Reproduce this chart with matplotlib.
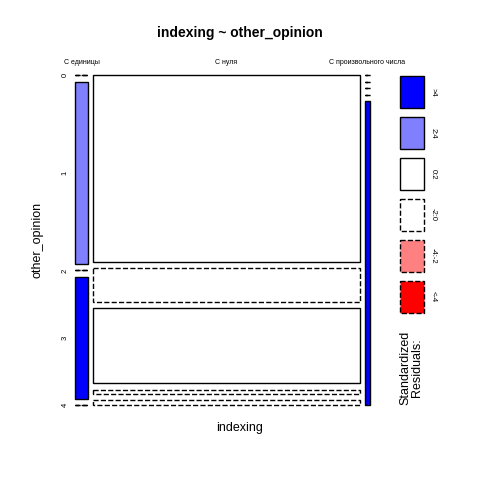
import matplotlib
matplotlib.use("Agg")
import matplotlib.pyplot as plt
from matplotlib.patches import Rectangle
plt.rcParams['font.family'] = ['Liberation Sans', 'DejaVu Sans']

columns = ["С единицы", "С нуля", "С произвольного числа"]
rows = ["0", "1", "2", "3", "4"]
counts = [[0, 36, 0, 24, 0],
          [754, 137, 302, 16, 20],
          [0, 0, 0, 0, 23]]
# residual class per cell: 0 '>4', 1 '2:4', 2 '0:2', 3 '-2:0', 4 '-4:-2', 5 '<-4'
resid = [[3, 1, 3, 0, 3],
         [2, 3, 2, 3, 3],
         [3, 3, 3, 3, 0]]
leg_labels = [">4", "2:4", "0:2", "-2:0", "-4:-2", "<-4"]
leg_colors = ["#0000FF", "#8080FF", "white", "white", "#FF8080", "#FF0000"]
leg_dashed = [False, False, False, True, True, True]

fig = plt.figure(figsize=(4.8, 4.8), dpi=100)
ax = fig.add_axes([0, 0, 1, 1])
ax.set_xlim(0, 480); ax.set_ylim(480, 0); ax.axis("off")

X0, X1, Y0, Y1 = 75, 370, 75, 405
gx, gy = 5, 6.5
total = sum(sum(c) for c in counts)
wavail = (X1 - X0) - gx * (len(columns) - 1)
x = X0
for ci, col in enumerate(counts):
    w = wavail * sum(col) / total
    havail = (Y1 - Y0) - gy * (len(rows) - 1)
    y = Y0
    for ri, v in enumerate(col):
        h = havail * v / sum(col)
        k = resid[ci][ri]
        ax.add_patch(Rectangle((x, y), w, h, facecolor=leg_colors[k], edgecolor="black",
                               lw=1, linestyle="--" if leg_dashed[k] else "-"))
        if ci == 0:
            ax.text(65, y + h / 2, rows[ri], rotation=90, fontsize=5.5, ha="center", va="center")
        y += h + gy
    ax.text(x + w / 2, 63, columns[ci], fontsize=5, ha="center", va="center")
    x += w + gx

for i, lab in enumerate(leg_labels):
    yy = 76 + i * 41
    ax.add_patch(Rectangle((400, yy), 24, 32, facecolor=leg_colors[i], edgecolor="black",
                           lw=1, linestyle="--" if leg_dashed[i] else "-"))
    ax.text(433, yy + 16, lab, rotation=-90, fontsize=5.5, ha="center", va="center")
ax.text(411, 405, "Standardized\nResiduals:", rotation=90, fontsize=9, ha="center", va="bottom",
        linespacing=0.9)

ax.text(240, 33, "indexing ~ other_opinion", fontsize=10, fontweight="bold", ha="center", va="center")
ax.text(240, 428, "indexing", fontsize=9, ha="center", va="center")
ax.text(38, 240, "other_opinion", fontsize=9, rotation=90, ha="center", va="center")
fig.savefig("out.png", dpi=100)
